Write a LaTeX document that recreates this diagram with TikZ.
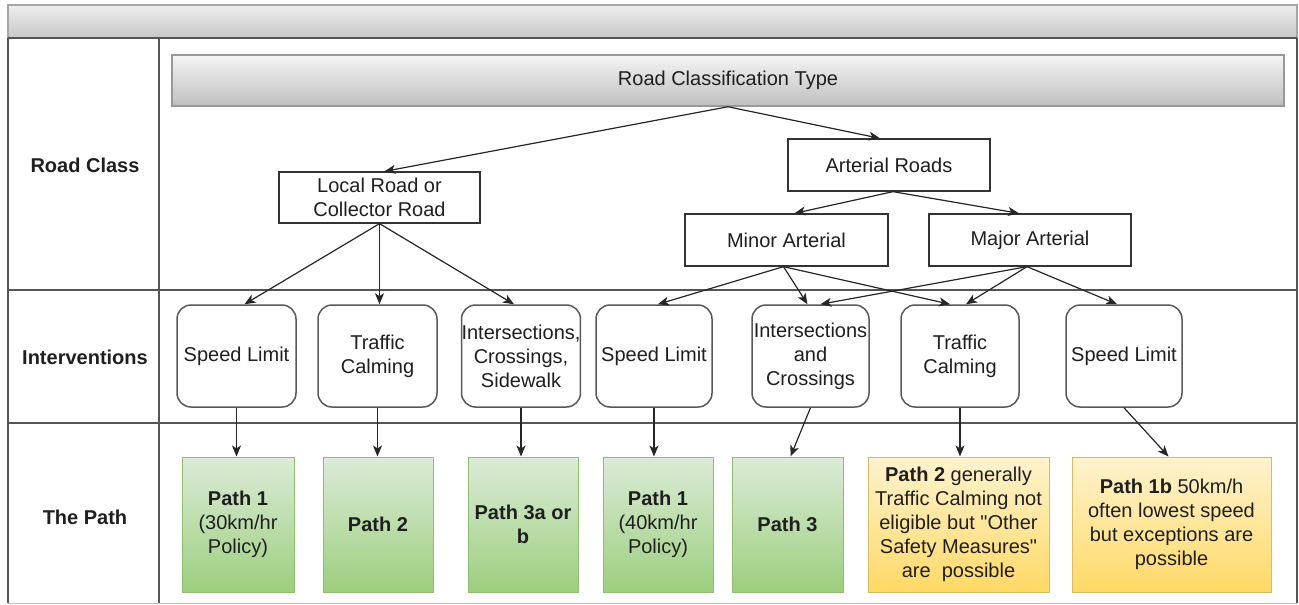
\documentclass[tikz,border=0pt]{standalone}
\usepackage{fontspec}
\setmainfont{Liberation Sans}
\newfontfamily\sqfont{Liberation Sans}
\usetikzlibrary{arrows.meta}
\definecolor{grntop}{HTML}{DCEBD8}
\definecolor{grnbot}{HTML}{9CCF7E}
\definecolor{grnline}{HTML}{8CBF70}
\definecolor{yeltop}{HTML}{FFF3CF}
\definecolor{yelbot}{HTML}{FFD966}
\definecolor{yelline}{HTML}{D9BC62}
\definecolor{tline}{HTML}{555555}
\begin{document}
\begin{tikzpicture}[x=1pt,y=-1pt,
  every node/.style={font=\fontsize{20}{24}\selectfont, text=black!88, inner sep=0pt, align=center},
  plainbox/.style={draw=black!80, line width=1.3pt, fill=white, minimum height=51pt},
  ivbox/.style={draw=black!65, line width=1.5pt, fill=white, rounded corners=14pt, minimum height=102pt},
  grnbox/.style={draw=grnline, line width=1pt, top color=grntop, bottom color=grnbot, minimum height=135pt},
  yelbox/.style={draw=yelline, line width=1pt, top color=yeltop, bottom color=yelbot, minimum height=135pt},
  rowlabel/.style={font=\fontsize{20}{24}\selectfont\bfseries},
  arr/.style={draw=black!85, line width=1.2pt, -{Stealth[length=11pt,width=9pt,inset=3pt]}},
  tableline/.style={draw=tline, line width=1.5pt}]
\useasboundingbox (0,0) rectangle (1299,605);
% table
\shade[top color=black!7, bottom color=black!22] (8,5) rectangle (1297,38);
\draw[draw=black!35, line width=1.5pt] (8,5) rectangle (1297,38);
\draw[tableline] (8,38) -- (8,603);
\draw[tableline] (1297,38) -- (1297,603);
\draw[draw=black!25, line width=1pt] (8,603) -- (1297,603);
\draw[tableline] (8,38) -- (1297,38);
\draw[tableline] (159,38) -- (159,603);
\draw[tableline] (8,290) -- (1297,290);
\draw[tableline] (8,423) -- (1297,423);
\node[rowlabel] (lc) at (85,165) {Road Class};
\node[rowlabel] (li) at (85,357) {Interventions};
\node[rowlabel] (lp) at (85,517) {The Path};
% road class
\node[draw=black!40, line width=1.5pt, top color=black!4, bottom color=black!25, minimum width=1112pt, minimum height=51pt] (rct) at (728,80.5) {\raisebox{-3pt}{Road Classification Type}};
\node[plainbox, minimum width=201pt] (lr) at (379.5,197.5) {Local Road or\\Collector Road};
\node[plainbox, minimum width=202pt, minimum height=52pt] (ar) at (889,165) {Arterial Roads};
\node[plainbox, minimum width=203pt, minimum height=52pt] (mi) at (786.5,240) {Minor Arterial};
\node[plainbox, minimum width=202pt, minimum height=52pt] (ma) at (1030,240) {Major Arterial};
% interventions
\node[ivbox, minimum width=119pt] (sl1) at (236.5,356) {Speed Limit};
\node[ivbox, minimum width=119pt] (tc1) at (377.5,356) {Traffic\\Calming};
\node[ivbox, minimum width=118pt] (ics) at (521,356) {Intersections,\\Crossings,\\Sidewalk};
\node[ivbox, minimum width=116pt] (sl2) at (654,356) {Speed Limit};
\node[ivbox, minimum width=117pt] (ic) at (810.5,356) {Intersections\\and\\Crossings};
\node[ivbox, minimum width=118pt] (tc2) at (960,356) {Traffic\\Calming};
\node[ivbox, minimum width=116pt] (sl3) at (1124,356) {Speed Limit};
% paths
\node[grnbox, minimum width=112pt] (p1) at (238,524.5) {\textbf{Path 1}\\(30km/hr\\Policy)};
\node[grnbox, minimum width=110pt] (p2) at (378,524.5) {\textbf{Path 2}};
\node[grnbox, minimum width=110pt] (p3a) at (523,524.5) {\textbf{Path 3a or}\\\textbf{b}};
\node[grnbox, minimum width=110pt] (p4) at (658,524.5) {\textbf{Path 1}\\(40km/hr\\Policy)};
\node[grnbox, minimum width=111pt] (p3) at (787.5,524.5) {\textbf{Path 3}};
\node[yelbox, minimum width=181pt] (p2g) at (958.5,524.5) {\textbf{Path 2} generally\\Traffic Calming not\\eligible but {\sqfont"}Other\\Safety Measures{\sqfont"}\\are\ \ possible};
\node[yelbox, minimum width=199pt] (p1b) at (1171.5,524.5) {\textbf{Path 1b} 50km/h\\often lowest speed\\but exceptions are\\possible};
% arrows road class
\draw[arr] (rct.south) -- ([xshift=5pt]lr.north);
\draw[arr] (rct.south) -- ([xshift=-9pt]ar.north);
\draw[arr] ([xshift=4pt]ar.south) -- ([xshift=8pt]mi.north);
\draw[arr] ([xshift=4pt]ar.south) -- ([xshift=-11pt]ma.north);
% to interventions
\draw[arr] (lr.south) -- ([xshift=8pt]sl1.north);
\draw[arr] (lr.south) -- (lr.south |- tc1.north);
\draw[arr] (lr.south) -- ([xshift=-7pt]ics.north);
\draw[arr] ([xshift=-3pt]mi.south) -- ([xshift=4pt]sl2.north);
\draw[arr] ([xshift=-3pt]mi.south) -- ([xshift=-3pt]ic.north);
\draw[arr] ([xshift=-3pt]mi.south) -- ([xshift=-10pt]tc2.north);
\draw[arr] ([xshift=-3pt]ma.south) -- ([xshift=10pt]ic.north);
\draw[arr] ([xshift=-3pt]ma.south) -- ([xshift=6pt]tc2.north);
\draw[arr] ([xshift=-3pt]ma.south) -- ([xshift=-7pt]sl3.north);
% to paths
\draw[arr] (sl1.south) -- (sl1.south |- p1.north);
\draw[arr] (tc1.south) -- (tc1.south |- p2.north);
\draw[arr] (ics.south) -- (ics.south |- p3a.north);
\draw[arr] (sl2.south) -- (sl2.south |- p4.north);
\draw[arr] (ic.south) -- ([xshift=3pt]p3.north);
\draw[arr] (tc2.south) -- (tc2.south |- p2g.north);
\draw[arr] (sl3.south) -- ([xshift=-3pt]p1b.north);
\end{tikzpicture}
\end{document}
